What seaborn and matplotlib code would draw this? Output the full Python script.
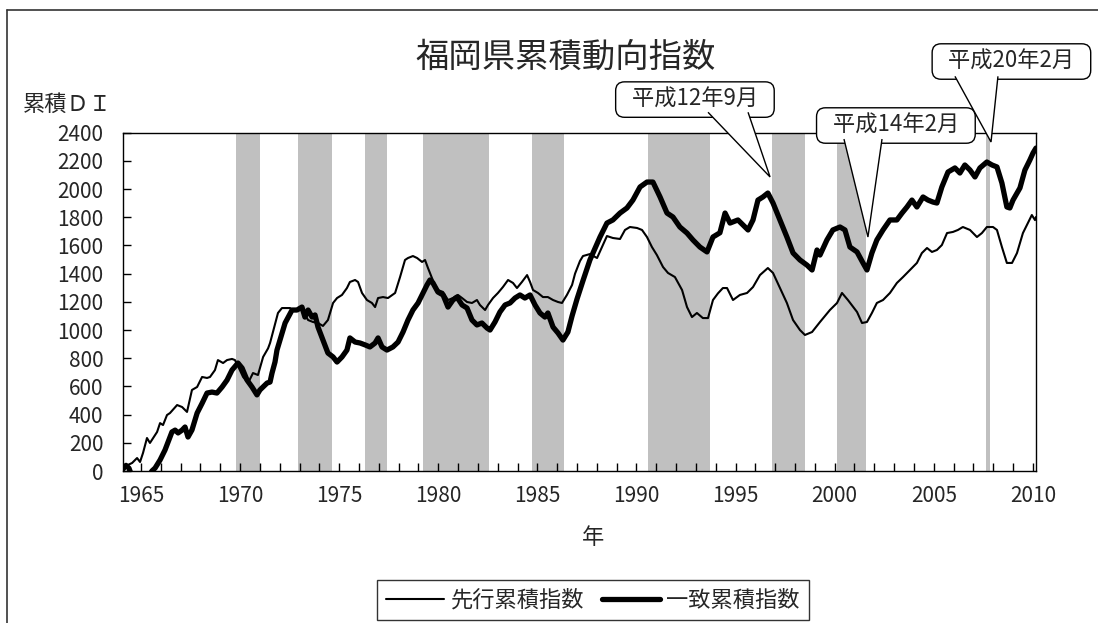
import matplotlib
matplotlib.use("Agg")
import matplotlib.pyplot as plt
from matplotlib.lines import Line2D
from matplotlib.patches import Polygon
import pandas as pd
import seaborn as sns

# 先行累積指数 (decimal year, value)
lead_years = [
    1964.09, 1964.34, 1964.55, 1964.80, 1964.95, 1965.10, 1965.30, 1965.45, 1965.81, 1965.96,
    1966.11, 1966.31, 1966.46, 1966.82, 1967.07, 1967.32, 1967.57, 1967.83, 1968.08, 1968.33,
    1968.48, 1968.73, 1968.88, 1969.14, 1969.34, 1969.59, 1969.74, 1969.89, 1970.15, 1970.40,
    1970.65, 1970.90, 1971.16, 1971.41, 1971.51, 1971.76, 1971.91, 1972.11, 1972.52, 1972.67,
    1972.92, 1973.12, 1973.27, 1973.43, 1973.68, 1973.93, 1974.18, 1974.43, 1974.69, 1974.89,
    1975.14, 1975.39, 1975.54, 1975.80, 1975.95, 1976.15, 1976.40, 1976.65, 1976.81, 1976.96,
    1977.21, 1977.46, 1977.82, 1978.07, 1978.32, 1978.47, 1978.72, 1978.93, 1979.18, 1979.33,
    1979.48, 1979.68, 1979.83, 1979.98, 1980.24, 1980.49, 1980.74, 1980.99, 1981.20, 1981.45,
    1981.70, 1981.95, 1982.10, 1982.36, 1982.51, 1982.76, 1983.01, 1983.26, 1983.52, 1983.77,
    1983.97, 1984.22, 1984.48, 1984.63, 1984.78, 1985.03, 1985.28, 1985.53, 1985.79, 1986.04,
    1986.24, 1986.49, 1986.75, 1986.90, 1987.15, 1987.30, 1987.65, 1988.01, 1988.26, 1988.51,
    1988.81, 1989.17, 1989.42, 1989.67, 1990.03, 1990.28, 1990.53, 1990.78, 1991.03, 1991.34,
    1991.59, 1991.94, 1992.30, 1992.55, 1992.80, 1993.05, 1993.35, 1993.61, 1993.86, 1994.11,
    1994.36, 1994.57, 1994.87, 1995.22, 1995.58, 1995.88, 1996.23, 1996.63, 1996.89, 1997.24,
    1997.59, 1997.90, 1998.25, 1998.50, 1998.86, 1999.26, 1999.76, 2000.12, 2000.37, 2000.67,
    2001.13, 2001.38, 2001.63, 2001.88, 2002.13, 2002.44, 2002.79, 2003.14, 2003.45, 2003.80,
    2004.15, 2004.40, 2004.66, 2004.91, 2005.16, 2005.41, 2005.67, 2005.97, 2006.22, 2006.47,
    2006.83, 2007.18, 2007.43, 2007.68, 2007.99, 2008.19, 2008.44, 2008.69, 2008.95, 2009.20,
    2009.50, 2009.75, 2009.95, 2010.11, 2010.16,
]
lead_values = [
    0, 43, 57, 92, 64, 128, 234, 199, 277, 340,
    326, 397, 411, 468, 454, 419, 575, 596, 667, 660,
    667, 716, 787, 766, 787, 795, 787, 745, 667, 624,
    695, 681, 809, 870, 908, 1040, 1121, 1156, 1156, 1142,
    1150, 1163, 1110, 1071, 1057, 1050, 1029, 1071, 1192, 1227,
    1249, 1298, 1341, 1355, 1341, 1263, 1213, 1192, 1163, 1227,
    1234, 1227, 1263, 1376, 1497, 1511, 1525, 1511, 1483, 1497,
    1440, 1369, 1320, 1284, 1270, 1213, 1227, 1249, 1227, 1199,
    1192, 1213, 1178, 1142, 1178, 1227, 1263, 1305, 1355, 1334,
    1298, 1341, 1390, 1341, 1284, 1263, 1234, 1234, 1213, 1199,
    1192, 1249, 1320, 1400, 1490, 1525, 1539, 1511, 1589, 1667,
    1653, 1646, 1710, 1731, 1724, 1710, 1660, 1589, 1532, 1447,
    1405, 1376, 1284, 1163, 1092, 1121, 1085, 1085, 1213, 1260,
    1298, 1298, 1213, 1249, 1263, 1305, 1390, 1440, 1405, 1298,
    1192, 1071, 1000, 965, 986, 1057, 1142, 1192, 1263, 1213,
    1128, 1050, 1057, 1121, 1192, 1213, 1263, 1334, 1376, 1426,
    1476, 1546, 1582, 1554, 1568, 1603, 1688, 1696, 1710, 1731,
    1710, 1660, 1688, 1731, 1731, 1710, 1589, 1476, 1476, 1546,
    1688, 1759, 1816, 1780, 1802,
]

# 一致累積指数 (decimal year, value)
coin_years = [
    1964.09, 1964.24, 1964.39, 1964.60, 1964.95, 1965.30, 1965.55, 1965.71, 1965.96, 1966.21,
    1966.56, 1966.72, 1966.87, 1967.07, 1967.22, 1967.37, 1967.57, 1967.83, 1968.08, 1968.33,
    1968.58, 1968.83, 1969.09, 1969.34, 1969.59, 1969.89, 1970.10, 1970.35, 1970.60, 1970.85,
    1971.00, 1971.36, 1971.51, 1971.61, 1971.76, 1971.86, 1972.27, 1972.62, 1972.87, 1973.12,
    1973.27, 1973.43, 1973.63, 1973.78, 1973.93, 1974.18, 1974.43, 1974.69, 1974.89, 1975.14,
    1975.39, 1975.54, 1975.80, 1976.05, 1976.30, 1976.55, 1976.81, 1976.96, 1977.16, 1977.41,
    1977.71, 1977.97, 1978.22, 1978.47, 1978.72, 1978.98, 1979.23, 1979.43, 1979.58, 1979.73,
    1979.98, 1980.24, 1980.49, 1980.74, 1980.94, 1981.20, 1981.45, 1981.70, 1981.95, 1982.20,
    1982.46, 1982.61, 1982.86, 1983.11, 1983.37, 1983.62, 1983.87, 1984.12, 1984.37, 1984.63,
    1984.88, 1985.13, 1985.38, 1985.53, 1985.79, 1986.04, 1986.29, 1986.54, 1986.75, 1987.00,
    1987.30, 1987.65, 1988.16, 1988.51, 1988.81, 1989.17, 1989.52, 1989.82, 1990.18, 1990.53,
    1990.83, 1991.19, 1991.54, 1991.84, 1992.19, 1992.55, 1992.85, 1993.20, 1993.56, 1993.86,
    1994.21, 1994.47, 1994.72, 1995.12, 1995.48, 1995.63, 1995.88, 1996.13, 1996.38, 1996.63,
    1996.89, 1997.24, 1997.59, 1997.90, 1998.25, 1998.60, 1998.86, 1999.11, 1999.26, 1999.61,
    1999.91, 2000.27, 2000.52, 2000.77, 2001.13, 2001.43, 2001.63, 2001.88, 2002.13, 2002.44,
    2002.79, 2003.14, 2003.40, 2003.65, 2003.90, 2004.15, 2004.46, 2004.71, 2004.96, 2005.16,
    2005.41, 2005.72, 2006.07, 2006.32, 2006.57, 2006.83, 2007.08, 2007.33, 2007.68, 2007.94,
    2008.19, 2008.44, 2008.69, 2008.84, 2009.00, 2009.35, 2009.60, 2009.85, 2010.01, 2010.16,
]
coin_values = [
    15, 40, 20, -60, -150, -60, 0, 21, 78, 149,
    277, 290, 270, 290, 312, 241, 291, 411, 480, 553,
    560, 553, 596, 645, 716, 766, 730, 645, 596, 540,
    575, 624, 631, 695, 773, 858, 1050, 1142, 1142, 1163,
    1092, 1142, 1092, 1107, 1021, 929, 837, 809, 773, 809,
    858, 944, 915, 908, 895, 880, 908, 944, 880, 858,
    880, 915, 986, 1071, 1142, 1192, 1263, 1320, 1355, 1334,
    1270, 1249, 1163, 1213, 1234, 1178, 1156, 1071, 1036, 1050,
    1014, 1000, 1057, 1128, 1178, 1192, 1227, 1249, 1227, 1249,
    1178, 1121, 1092, 1121, 1021, 979, 929, 986, 1100, 1220,
    1350, 1497, 1660, 1759, 1781, 1830, 1866, 1922, 2015, 2050,
    2050, 1944, 1830, 1802, 1731, 1688, 1639, 1589, 1554, 1660,
    1690, 1830, 1759, 1781, 1731, 1710, 1781, 1922, 1944, 1972,
    1901, 1781, 1660, 1547, 1497, 1461, 1426, 1568, 1532, 1639,
    1710, 1731, 1710, 1589, 1554, 1476, 1426, 1547, 1639, 1710,
    1781, 1781, 1830, 1873, 1922, 1873, 1944, 1922, 1908, 1901,
    2015, 2121, 2150, 2114, 2171, 2135, 2086, 2150, 2192, 2171,
    2157, 2043, 1873, 1866, 1922, 2008, 2135, 2206, 2256, 2291,
]

# 景気後退期 (shaded periods)
recession_starts = [1969.79, 1972.92, 1976.30, 1979.23, 1984.73, 1990.58, 1996.84, 2000.12, 2007.63]
recession_ends = [1971.00, 1974.64, 1977.41, 1982.56, 1986.34, 1993.71, 1998.50, 2001.58, 2007.84]

year_ticks = list(range(1965, 2011, 5))
year_minor_ticks = list(range(1965, 2011))
value_ticks = list(range(0, 2401, 200))

series_labels = ["先行累積指数", "一致累積指数"]
callout_labels = ["平成12年9月", "平成14年2月", "平成20年2月"]
callout_tip_years = [1996.74, 2001.68, 2007.89]
callout_tip_values = [2086, 1660, 2334]

sns.set_style("ticks")
plt.rcParams["font.family"] = ["Noto Sans CJK JP", "DejaVu Sans"]

lead_df = pd.DataFrame({"year": lead_years, "value": lead_values})
coin_df = pd.DataFrame({"year": coin_years, "value": coin_values})

W, H = 1098, 623
fig = plt.figure(figsize=(W / 100, H / 100), dpi=100)
ax = fig.add_axes([123 / W, 1 - 471 / H, (1036 - 123) / W, (471 - 132.7) / H])

for s, e in zip(recession_starts, recession_ends):
    ax.axvspan(s, e, color="#C0C0C0", lw=0, zorder=0)

sns.lineplot(data=lead_df, x="year", y="value", ax=ax, color="black",
             linewidth=1.5, estimator=None, sort=False, zorder=3)
sns.lineplot(data=coin_df, x="year", y="value", ax=ax, color="black",
             linewidth=3.8, estimator=None, sort=False, zorder=4)
for ln in ax.get_lines():
    ln.set_solid_joinstyle("round")

# speech-bubble callouts
box_centers = [(1992.95, 2635), (2003.09, 2451), (2008.92, 2905)]
wedge_bases = [((1993.61, 1995.63), 2545), ((2000.47, 2002.39), 2355), ((2006.07, 2008.24), 2800)]
for label, (cx, cy), (bx, by), tx, ty in zip(callout_labels, box_centers, wedge_bases,
                                             callout_tip_years, callout_tip_values):
    ax.text(cx, cy, "  " + label + "  ", ha="center", va="center", fontsize=16,
            zorder=8, clip_on=False,
            bbox=dict(boxstyle="round,pad=0.28,rounding_size=0.4", fc="white", ec="black", lw=1))
    ax.add_patch(Polygon([(bx[0], by), (tx, ty), (bx[1], by)], closed=False,
                         fc="white", ec="black", lw=1, zorder=9, clip_on=False))

ax.set_xlim(1964.09, 2010.16)
ax.set_ylim(0, 2400)
ax.set_xticks(year_ticks)
ax.set_xticks(year_minor_ticks, minor=True)
ax.set_yticks(value_ticks)
ax.set_xlabel("")
ax.set_ylabel("")
ax.tick_params(axis="both", which="both", direction="in", length=6, width=1, color="black")
ax.tick_params(axis="x", labelsize=15, pad=10)
ax.tick_params(axis="y", labelsize=15, pad=14)
for sp in ax.spines.values():
    sp.set_visible(True)
    sp.set_color("black")
    sp.set_linewidth(1)

fig.text(566 / W, 1 - 57 / H, "福岡県累積動向指数", ha="center", va="center", fontsize=24)
fig.text(23 / W, 1 - 104 / H, "累積ＤＩ", ha="left", va="center", fontsize=16)
fig.text(593 / W, 1 - 537 / H, "年", ha="center", va="center", fontsize=16)

handles = [Line2D([], [], color="black", lw=1.5), Line2D([], [], color="black", lw=3.8)]
leg = fig.legend(handles, series_labels, loc="center", bbox_to_anchor=(593 / W, 1 - 600 / H),
                 ncol=2, frameon=True, fancybox=False, edgecolor="black", fontsize=16,
                 handlelength=2.6, handletextpad=0.3, columnspacing=0.8,
                 borderpad=0.4, borderaxespad=0)
leg.get_frame().set_linewidth(1.0)

# chart area border
fig.add_artist(Line2D([7 / W, 7 / W], [0, 1 - 10 / H], transform=fig.transFigure, color="#333333", lw=1.2))
fig.add_artist(Line2D([7 / W, 1], [1 - 10 / H, 1 - 10 / H], transform=fig.transFigure, color="#333333", lw=1.2))

fig.savefig("out.png", dpi=100)
